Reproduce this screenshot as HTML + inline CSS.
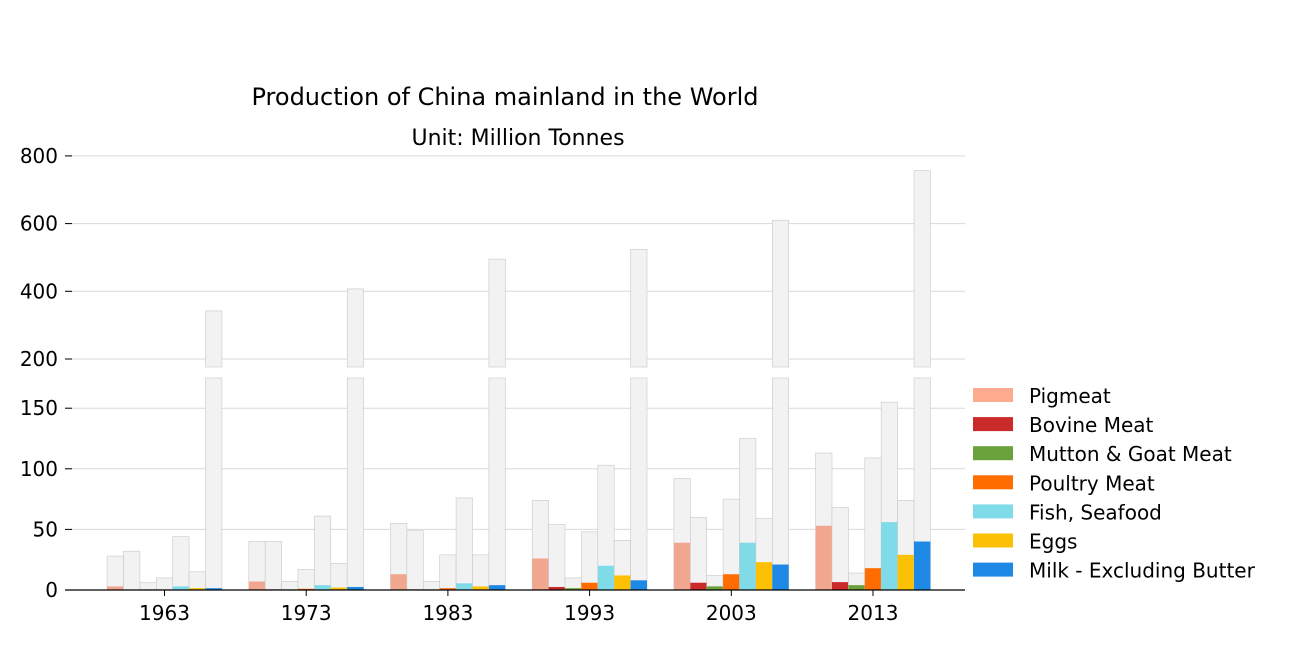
<!DOCTYPE html>
<html><head><meta charset="utf-8"><style>
body{margin:0;background:#fff;}
svg text{font-family:"DejaVu Sans","Liberation Sans",sans-serif;}
</style></head><body>
<svg id="c" width="1296" height="662" xmlns="http://www.w3.org/2000/svg">
<text x="505" y="105" font-size="24" text-anchor="middle">Production of China mainland in the World</text>
<text x="518" y="145" font-size="22" text-anchor="middle">Unit: Million Tonnes</text>
<g id="grid"></g><g id="bars"></g><g id="axes"></g><g id="legend"></g>
</svg>
<script>
const years=["1963","1973","1983","1993","2003","2013"];
const categories=["Pigmeat","Bovine Meat","Mutton & Goat Meat","Poultry Meat","Fish, Seafood","Eggs","Milk - Excluding Butter"];
const colors=["#f1a68f","#cb2a2a","#6aa13a","#ff6d00","#80dbe8","#fcc004","#1e88e5"];
const legendColors=["#fcab8f","#cb2a2a","#6aa13a","#ff6d00","#80dbe8","#fcc004","#1e88e5"];
const world=[[28,32,6,10,44,15,342],[40,40,7,17,61,22,407],[55,49,7,29,76,29,495],[74,54,10,48,103,41,524],[92,60,12,75,125,59,610],[113,68,14,109,155,74,757]];
const china=[[3,0.3,0.5,0.5,3,1.5,1.5],[7,0.5,0.5,1,4,2,2.5],[13,0.5,0.5,1.5,5.5,3,4],[26,2.5,1.5,6,20,12,8],[39,6,3,13,39,23,21],[53,6.5,4,18,56,29,40]];
const lowTicks=[0,50,100,150];
const highTicks=[200,400,600,800];
const NS="http://www.w3.org/2000/svg";
function mk(tag,attrs,parent){const e=document.createElementNS(NS,tag);for(const k in attrs)e.setAttribute(k,attrs[k]);parent.appendChild(e);return e;}
const yLow=v=>590-v*(60.6/50);
const yHigh=v=>359-(v-200)*(67.7/200);
const LOW_TOP=378,HIGH_BOT=367,LOW_MAX=(590-378)/(60.6/50),HIGH_MIN=200-(367-359)*(200/67.7);
const x0=65,x1=965,grp=141.7,bw=16.4,firstCenter=164.5;
const grid=document.getElementById('grid'),bars=document.getElementById('bars'),axes=document.getElementById('axes'),leg=document.getElementById('legend');
lowTicks.forEach(t=>{const y=yLow(t);
 if(t>0){const l=mk('line',{x1:x0,x2:x1,y1:y,y2:y,stroke:'#d9d9d9','stroke-width':1},grid);}
 mk('line',{x1:x0,x2:x0+7,y1:y,y2:y,stroke:'#000'},axes);
 const tx=mk('text',{x:58,y:y+7,'font-size':20,'text-anchor':'end'},axes);tx.textContent=t;
 });
highTicks.forEach(t=>{const y=yHigh(t);
 const l=mk('line',{x1:x0,x2:x1,y1:y,y2:y,stroke:'#d9d9d9','stroke-width':1},grid);
 mk('line',{x1:x0,x2:x0+7,y1:y,y2:y,stroke:'#000'},axes);
 const tx=mk('text',{x:58,y:y+7,'font-size':20,'text-anchor':'end'},axes);tx.textContent=t;
 });
function drawBar(x,v,fill,stroke,name){
 const lo=Math.min(v,LOW_MAX);
 const r=mk('rect',{x:x,y:yLow(lo),width:bw,height:590-yLow(lo),fill:fill,stroke:stroke,'stroke-width':0.6},bars);
 
 if(v>HIGH_MIN){const r2=mk('rect',{x:x,y:yHigh(v),width:bw,height:HIGH_BOT-yHigh(v),fill:fill,stroke:stroke,'stroke-width':0.6},bars);
  }
}
years.forEach((yr,i)=>{const c=firstCenter+i*grp;const start=c-bw*3.5;
 categories.forEach((cat,j)=>{const x=start+j*bw;
  drawBar(x,world[i][j],'#f2f2f2','#c8c8c8','world-bar');
  drawBar(x,china[i][j],colors[j],'none','china-bar');});
 mk('line',{x1:c,x2:c,y1:590,y2:596,stroke:'#000'},axes);
 const t=mk('text',{x:c,y:620,'font-size':20,'text-anchor':'middle'},axes);t.textContent=yr;
 });
const ax=mk('line',{x1:x0,x2:x1,y1:590,y2:590,stroke:'#000','stroke-width':1.2},axes);

categories.forEach((cat,j)=>{const y=395+j*29.1;
 const g=mk('g',{},leg);
 mk('rect',{x:973,y:y-7,width:40,height:14,fill:legendColors[j]},g);
 const t=mk('text',{x:1029,y:y+8,'font-size':20},g);t.textContent=cat;});
</script>
</body></html>
